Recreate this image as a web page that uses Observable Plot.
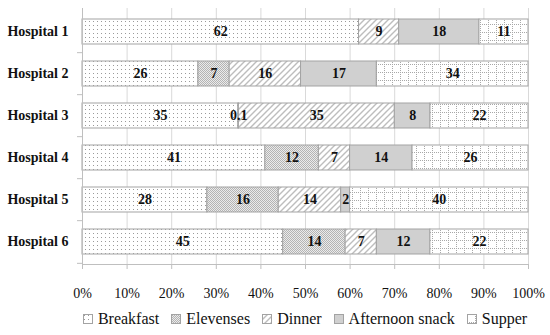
<!DOCTYPE html>
<html><head><meta charset="utf-8">
<script src="https://cdn.jsdelivr.net/npm/d3@7"></script>
<script src="https://cdn.jsdelivr.net/npm/@observablehq/plot@0.6"></script>
<style>
body{margin:0;background:#fff;font-family:"Liberation Serif",serif;}
#legend{display:flex;justify-content:center;align-items:center;width:550px;box-sizing:border-box;padding-left:60px;height:30px;font-family:"Liberation Serif",serif;font-size:16px;color:#111;}
#legend .item{display:flex;align-items:center;margin:0 6px;}
#legend svg{margin-right:5px;}
</style></head><body>
<svg width="0" height="0" style="position:absolute">
<defs>
<pattern id="pat-breakfast" width="4" height="4" patternUnits="userSpaceOnUse"><rect width="4" height="4" fill="#fff"/><rect x="1" y="1" width="1" height="1" fill="#9a9a9a"/></pattern>
<pattern id="pat-elevenses" width="2" height="2" patternUnits="userSpaceOnUse"><rect width="2" height="2" fill="#ebebeb"/><rect x="0" y="0" width="1" height="1" fill="#b4b4b4"/><rect x="1" y="1" width="1" height="1" fill="#b4b4b4"/></pattern>
<pattern id="pat-dinner" width="6" height="6" patternUnits="userSpaceOnUse"><rect width="6" height="6" fill="#fff"/><path d="M0,6L6,0M-1,1L1,-1M5,7L7,5" stroke="#bdbdbd" stroke-width="1.4"/></pattern>
<pattern id="pat-snack" width="4" height="4" patternUnits="userSpaceOnUse"><rect width="4" height="4" fill="#d0d0d0"/></pattern>
<pattern id="pat-supper" width="8" height="8" patternUnits="userSpaceOnUse"><rect width="8" height="8" fill="#fff"/><path d="M0.5,0V8M0,0.5H8" stroke="#a8a8a8" stroke-width="1" stroke-dasharray="1,1"/></pattern>
</defs></svg>
<div id="chart"></div>
<div id="legend"></div>
<script>
const hospitals = ["Hospital 1","Hospital 2","Hospital 3","Hospital 4","Hospital 5","Hospital 6"];
const meals = ["Breakfast","Elevenses","Dinner","Afternoon snack","Supper"];
const breakfast = [62,26,35,41,28,45];
const elevenses = [0,7,0.1,12,16,14];
const dinner = [9,16,35,7,14,7];
const afternoonSnack = [18,17,8,14,2,12];
const supper = [11,34,22,26,40,22];
const xTicks = [0,0.1,0.2,0.3,0.4,0.5,0.6,0.7,0.8,0.9,1];
const patternIds = ["pat-breakfast","pat-elevenses","pat-dinner","pat-snack","pat-supper"];

const series = [breakfast, elevenses, dinner, afternoonSnack, supper];
const data = hospitals.flatMap((h,i)=>meals.map((m,j)=>({hospital:h, meal:m, value:series[j][i]})));

const marginTop = 8, marginBottom = 40, height = 304;
const step = (height - marginTop - marginBottom) / hospitals.length;
const tickLen = 5 / 446;

const plot = Plot.plot({
  width: 550, height,
  marginLeft: 82, marginRight: 22, marginTop, marginBottom,
  style: {fontFamily: "Liberation Serif, serif", background: "white", color: "#111"},
  x: {domain: [0,1]},
  y: {domain: hospitals, paddingInner: 0.41, paddingOuter: 0.205},
  color: {domain: meals, range: patternIds.map(id => `url(#${id})`)},
  marks: [
    Plot.ruleX(xTicks.slice(1), {stroke: "#d9d9d9", strokeWidth: 1}),
    Plot.barX(data, Plot.stackX({x: "value", y: "hospital", fill: "meal", offset: "normalize", order: meals, stroke: "#a3a3a3", strokeWidth: 1})),
    Plot.text(data, Plot.stackX({filter: d => d.value > 0, x: "value", y: "hospital", z: "meal", offset: "normalize", order: meals, text: d => String(d.value), fontWeight: "bold", fontSize: 14, fill: "#111"})),
    Plot.frame({anchor: "left", stroke: "#bfbfbf"}),
    Plot.frame({anchor: "bottom", stroke: "#bfbfbf"}),
    Plot.ruleY(hospitals.slice(1), {y: d => d, dy: -step/2, x1: -tickLen, x2: 0, stroke: "#bfbfbf"}),
    Plot.ruleY(hospitals.slice(-1), {y: d => d, dy: step/2, x1: -tickLen, x2: 0, stroke: "#bfbfbf"}),
    Plot.axisY({tickSize: 0, tickPadding: 14, fontWeight: "bold", fontSize: 14, label: null}),
    Plot.axisX({ticks: xTicks, tickFormat: d3.format(".0%"), tickSize: 5, tickPadding: 19, fontSize: 14, stroke: "#bfbfbf", label: null})
  ]
});
document.getElementById("chart").appendChild(plot);

const legend = document.getElementById("legend");
meals.forEach((m,j) => {
  const item = document.createElement("div");
  item.className = "item";
  item.innerHTML = `<svg width="10" height="10"><rect x="0.5" y="0.5" width="9" height="9" fill="url(#${patternIds[j]})" stroke="#a3a3a3"/></svg><span>${m}</span>`;
  legend.appendChild(item);
});
</script>
</body></html>
